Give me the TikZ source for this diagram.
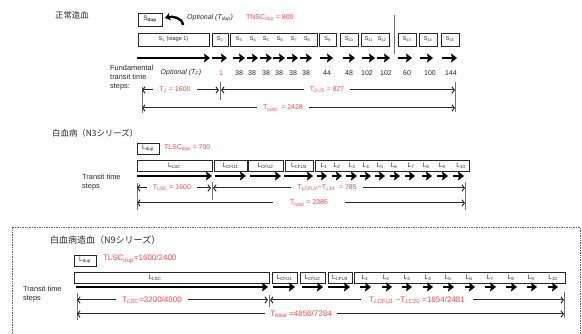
\documentclass[tikz,border=0pt]{standalone}
\usepackage{fontspec}
\setmainfont{Liberation Sans}
\newfontfamily\jp{Noto Sans CJK JP}
\usetikzlibrary{arrows.meta,fit}
\definecolor{rd}{RGB}{255,72,72}
\definecolor{dk}{RGB}{40,40,40}
\newcommand\mybox[5]{\node[box,fit={(#2,#3) (#4,#5)}] (#1) {};}
\begin{document}
\begin{tikzpicture}[x=1pt,y=-1pt,
 box/.style={draw=dk,line width=0.9pt,inner sep=0pt,outer sep=0pt},
 blab/.style={inner sep=0pt,text=dk,font=\fontsize{5.5}{6}\selectfont},
 llab/.style={inner sep=0pt,text=dk,font=\fontsize{6.5}{7}\selectfont},
 num/.style={inner sep=0pt,text=dk,font=\fontsize{7}{8}\selectfont},
 txt/.style={inner sep=0pt,text=dk,align=left,anchor=west,font=\fontsize{7.4}{9}\selectfont},
 rlab/.style={inner sep=0pt,outer sep=6pt,text=rd,font=\fontsize{7}{8}\selectfont},
 rtxt/.style={inner sep=0pt,outer sep=0pt,anchor=west,text=rd,font=\fontsize{7}{8}\selectfont},
 ttl/.style={inner sep=0pt,anchor=west,text=dk,font=\jp\fontsize{8.4}{10}\selectfont},
 thk/.style={line width=2.6pt,draw=black,-{Stealth[length=6pt,width=9pt,inset=1pt]}},
 dim/.style={line width=1pt,draw=dk,-{Straight Barb[length=2.5pt,width=6.5pt]}},
 bar/.style={line width=0.6pt,draw=black!55},
]
\useasboundingbox (0,0) rectangle (582,334);

% ---------------- Section 1 ----------------
\node[ttl] (title1) at (55,15) {正常造血};
\mybox{sdup}{138}{13}{162}{26}
\node[llab] (sdupt) at (sdup) {S\textsubscript{\bfseries dup}};
\coordinate (ca) at (183,25); \coordinate (cb) at (165,18);
\draw[line width=2.4pt,-{Stealth[length=5.5pt,width=8pt]}] (ca) to[out=95,in=15] (cb);
\node[txt,font=\itshape\fontsize{7}{8}\selectfont] (opt) at (187,18) {Optional (T\textsubscript{dup})};
\node[rtxt] (tnsc) at (246,18) {TNSC\textsubscript{dup} = 800};

\mybox{s1}{138}{33}{209}{46}
\mybox{s2}{212}{33}{228}{46}
\mybox{s38}{230}{33}{317}{46}
\mybox{s9}{319}{33}{336}{46}
\mybox{s10}{340}{33}{358}{46}
\mybox{s1112}{361}{33}{389}{46}
\mybox{s13}{398}{33}{416}{46}
\mybox{s14}{419}{33}{437}{46}
\mybox{s15}{441}{33}{459}{46}
\node[blab] (s1t) at (s1) {S\textsubscript{1} (stage 1)};
\node[blab] (s2t) at (s2) {S\textsubscript{2}};
\foreach \x/\n in {239/3,253/4,266/5,280/6,294/7,307/8}
  \node[blab] (st\n) at (\x,39.5) {S\textsubscript{\n}};
\node[blab] (s9t) at (s9) {S\textsubscript{9}};
\node[blab] (s10t) at (s10) {S\textsubscript{10}};
\node[blab] (s11t) at (369,39.5) {S\textsubscript{11}};
\node[blab] (s12t) at (382,39.5) {S\textsubscript{12}};
\node[blab] (s13t) at (s13) {S\textsubscript{13}};
\node[blab] (s14t) at (s14) {S\textsubscript{14}};
\node[blab] (s15t) at (s15) {S\textsubscript{15}};

\coordinate (vt) at (394,15); \coordinate (vb) at (394,54);
\draw[bar] (vt) -- (vb);

\foreach \a/\b [count=\i] in {137/210,212/227,233/245,247/258,260/272,273/285,287/298,300/312,320/333,343/355,362/375,377/390,398/412,420/433,442/457}
  {\coordinate (fa\i) at (\a,58); \coordinate (fb\i) at (\b,58); \draw[thk] (fa\i) -- (fb\i);}

\node[txt] (fund) at (110,77.5) {Fundamental\\transit time\\steps:};
\node[num,font=\itshape\fontsize{7}{8}\selectfont] (optf) at (181,73) {Optional (T\textsubscript{F})};
\node[num,text=rd] (n2) at (221,73) {1};
\foreach \x/\v [count=\i from 3] in {239/38,252/38,266/38,279/38,293/38,306/38,327/44,349/48,367/102,386/102,407/60,430/100,451/144}
  \node[num] (n\i) at (\x,73) {\v};

\coordinate (b1t) at (142,87); \coordinate (b1b) at (142,113); \draw[bar] (b1t) -- (b1b);
\coordinate (b2t) at (220,82); \coordinate (b2b) at (220,100); \draw[bar] (b2t) -- (b2b);
\coordinate (b3t) at (455,82); \coordinate (b3b) at (455,112); \draw[bar] (b3t) -- (b3b);
\node[rlab] (T1) at (175,90) {T\textsubscript{\itshape 1} = 1600};
\draw[dim] (T1.west) -- (T1.west -| b1t);
\draw[dim] (T1.east) -- ([xshift=-1pt]T1.east -| b2t);
\node[rlab] (T315) at (327,90) {T\textsubscript{\itshape 3-15} = 827};
\draw[dim] (T315.west) -- ([xshift=1pt]T315.west -| b2t);
\draw[dim] (T315.east) -- (T315.east -| b3t);
\node[rlab] (Ttot1) at (283,108) {T\textsubscript{\itshape total}\ \ = 2428};
\draw[dim] (Ttot1.west) -- (Ttot1.west -| b1t);
\draw[dim] (Ttot1.east) -- (Ttot1.east -| b3t);

% ---------------- Section 2 ----------------
\node[ttl] (title2) at (52,133) {白血病（N3シリーズ）};
\mybox{ldupA}{137}{143}{159}{154}
\node[llab] (ldupAt) at (ldupA) {L\textsubscript{dup}};
\node[rtxt] (tlscA) at (164,148) {TLSC\textsubscript{dup} = 700};

\mybox{lscA}{137}{160}{212}{171}
\mybox{cfu1A}{214}{160}{247}{171}
\mybox{cfu2A}{248}{160}{283}{171}
\mybox{cfu3A}{285}{160}{313}{171}
\mybox{lA}{315}{160}{469}{171}
\node[llab] (lscAt) at (lscA) {L\textsubscript{LSC}};
\node[llab] (cfu1At) at (cfu1A) {L\textsubscript{CFU1}};
\node[llab] (cfu2At) at (cfu2A) {L\textsubscript{CFU2}};
\node[llab] (cfu3At) at (cfu3A) {L\textsubscript{CFU3}};
\foreach \x [count=\i] in {324,337,352,366,380,394,411,426,442,461}
  \node[llab] (lA\i) at (\x,165.5) {L\textsubscript{\i}};

\foreach \a/\b [count=\i] in {137/212,215/246,250/281,284/313,317/327,332/342,346/357,360/371,375/385,390/400,405/415,422/432,437/448,453/464}
  {\coordinate (ga\i) at (\a,176); \coordinate (gb\i) at (\b,176); \draw[thk] (ga\i) -- (gb\i);}

\node[txt] (ttsA) at (82,182) {Transit time\\steps};

\coordinate (c1t) at (137,183); \coordinate (c1b) at (137,210); \draw[bar] (c1t) -- (c1b);
\coordinate (c2t) at (212,182); \coordinate (c2b) at (212,200); \draw[bar] (c2t) -- (c2b);
\coordinate (c3t) at (465,182); \coordinate (c3b) at (465,210); \draw[bar] (c3t) -- (c3b);
\node[rlab] (TlscA) at (172,188) {T\textsubscript{LSC} = 1600};
\draw[dim] (TlscA.west) -- (TlscA.west -| c1t);
\draw[dim] (TlscA.east) -- ([xshift=-1pt]TlscA.east -| c2t);
\node[rlab] (TcfuA) at (327,188) {T\textsubscript{\itshape LCFU1}\textasciitilde T\textsubscript{\itshape L14}\ \ = 785};
\draw[dim] (TcfuA.west) -- ([xshift=1pt]TcfuA.west -| c2t);
\draw[dim] (TcfuA.east) -- (TcfuA.east -| c3t);
\node[rlab,outer sep=17pt] (TtotA) at (309,203) {T\textsubscript{\itshape total} = 2385};
\draw[dim] (TtotA.west) -- (TtotA.west -| c1t);
\draw[dim] (TtotA.east) -- (TtotA.east -| c3t);

% ---------------- Section 3 ----------------
\draw[densely dotted,line width=0.7pt,black!60] (12,338) -- (12,227) -- (580,227) -- (580,338);
\node[ttl,font=\jp\fontsize{9}{11}\selectfont] (title3) at (50,240) {白血病造血（N9シリーズ）};
\mybox{ldupB}{74}{255}{96}{266}
\node[llab] (ldupBt) at (ldupB) {L\textsubscript{dup}};
\node[rtxt,font=\fontsize{8}{9}\selectfont] (tlscB) at (103,259) {TLSC\textsubscript{dup}=1600/2400};

\mybox{lscB}{74}{272}{269}{283}
\mybox{cfu1B}{272}{272}{297}{283}
\mybox{cfu2B}{300}{272}{325}{283}
\mybox{cfu3B}{328}{272}{352}{283}
\mybox{lB}{354}{272}{565}{283}
\node[llab] (lscBt) at (155,277.5) {L\textsubscript{LSC}};
\node[llab] (cfu1Bt) at (cfu1B) {L\textsubscript{CFU1}};
\node[llab] (cfu2Bt) at (cfu2B) {L\textsubscript{CFU2}};
\node[llab] (cfu3Bt) at (cfu3B) {L\textsubscript{CFU3}};
\foreach \x [count=\i] in {365,386,407,428,448,469,490,511,531,553}
  \node[llab] (lB\i) at (\x,277.5) {L\textsubscript{\i}};

\foreach \a/\b [count=\i] in {76/268,273/295,302/323,328/350,360/371,382/392,402/412,423/433,443/454,465/475,485/496,506/517,527/537,548/558}
  {\coordinate (ha\i) at (\a,287); \coordinate (hb\i) at (\b,287); \draw[thk] (ha\i) -- (hb\i);}

\node[txt] (ttsB) at (23,294) {Transit time\\steps};

\coordinate (d1t) at (77,293); \coordinate (d1b) at (77,320); \draw[bar] (d1t) -- (d1b);
\coordinate (d2t) at (269,295); \coordinate (d2b) at (269,307); \draw[bar] (d2t) -- (d2b);
\coordinate (d3t) at (564,292); \coordinate (d3b) at (564,318); \draw[bar] (d3t) -- (d3b);
\node[rlab,font=\fontsize{8}{9}\selectfont] (TlscB) at (152,300) {T\textsubscript{\itshape LSC}=3200/4800};
\draw[dim] (TlscB.west) -- (TlscB.west -| d1t);
\draw[dim] (TlscB.east) -- ([xshift=-1pt]TlscB.east -| d2t);
\node[rlab,font=\fontsize{8}{9}\selectfont,outer sep=8pt] (TcfuB) at (417,300) {T\textsubscript{\itshape LCFU1} \textasciitilde T\textsubscript{\itshape LC20} =1654/2481};
\draw[dim] (TcfuB.west) -- ([xshift=1pt]TcfuB.west -| d2t);
\draw[dim] (TcfuB.east) -- (TcfuB.east -| d3t);
\node[rlab,font=\fontsize{8}{9}\selectfont,outer sep=5pt] (TtotB) at (301,314) {T\textsubscript{\itshape total} =4856/7284};
\draw[dim] (TtotB.west) -- (TtotB.west -| d1t);
\draw[dim] (TtotB.east) -- (TtotB.east -| d3t);
\end{tikzpicture}
\end{document}
